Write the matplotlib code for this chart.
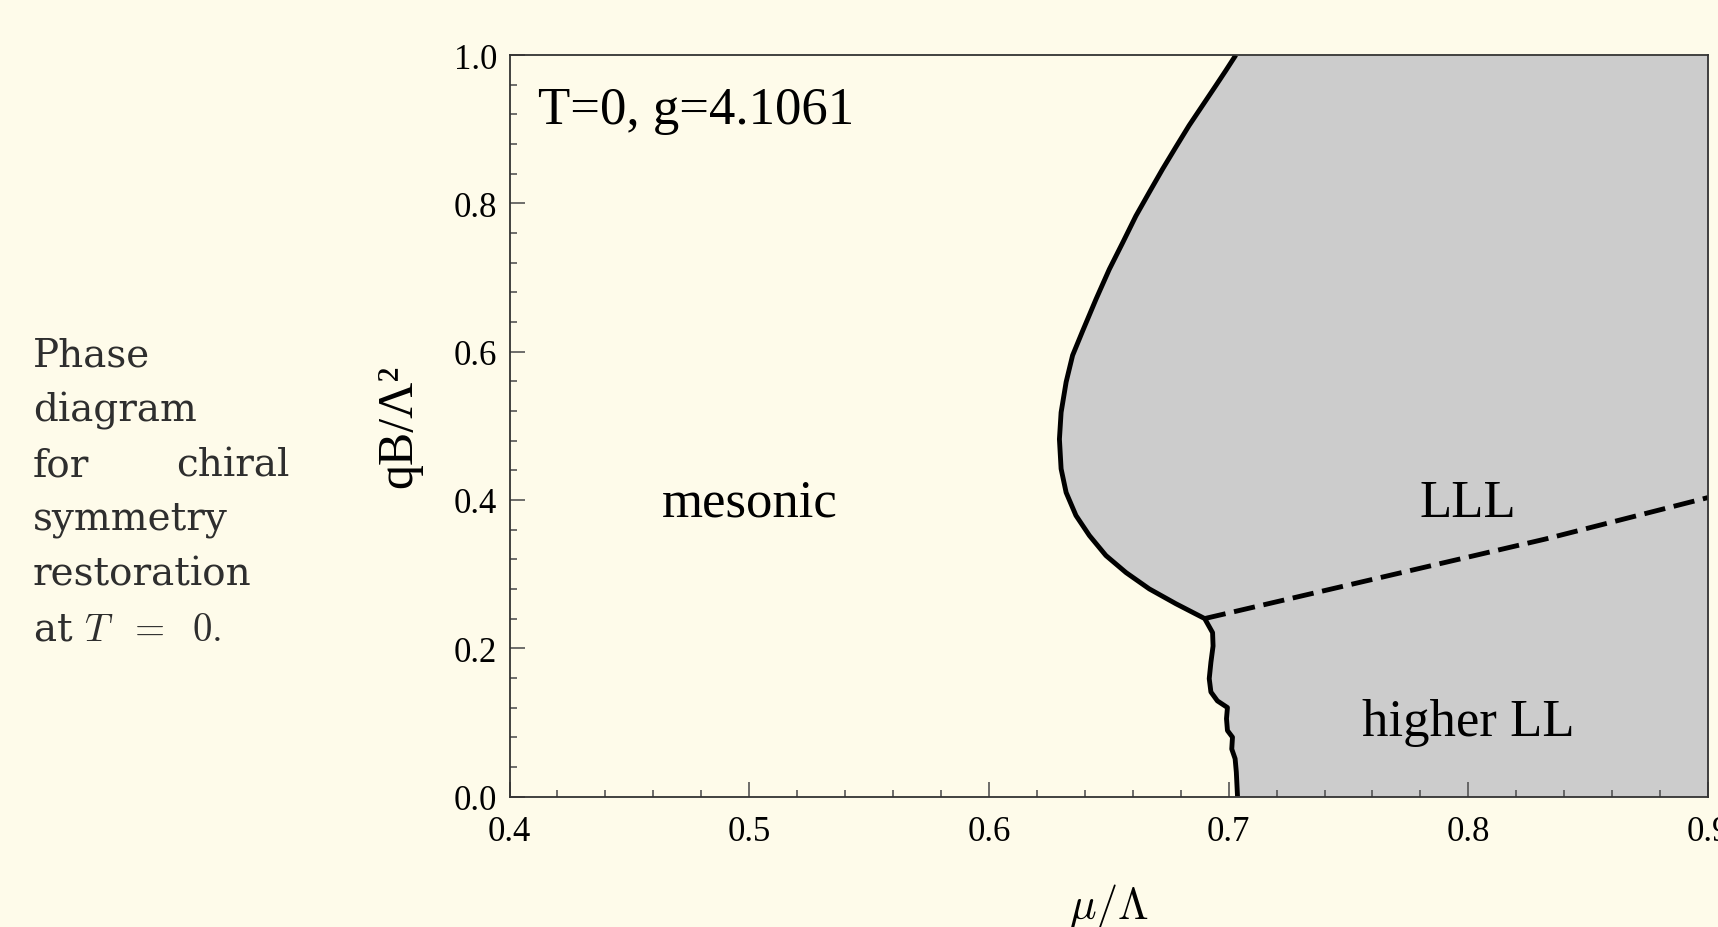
import numpy as np
import matplotlib
matplotlib.use("Agg")
import matplotlib.pyplot as plt
from matplotlib.ticker import MultipleLocator

plt.rcParams["mathtext.fontset"] = "cm"

# phase boundary (solid), top to bottom
boundary_mu = [0.7030, 0.6988, 0.6947, 0.6891, 0.6835, 0.6780, 0.6724, 0.6669,
               0.6613, 0.6558, 0.6502, 0.6447, 0.6391, 0.6349, 0.6322, 0.6301,
               0.6294, 0.6301, 0.6322, 0.6363, 0.6419, 0.6488, 0.6572, 0.6669,
               0.6780, 0.6900, 0.6933, 0.6935, 0.6926, 0.6919, 0.6926, 0.6953,
               0.6995, 0.6991, 0.6995, 0.7016, 0.7013, 0.7027, 0.7032, 0.7037]
boundary_qb = [1.000, 0.979, 0.959, 0.932, 0.905, 0.876, 0.846, 0.815,
               0.783, 0.747, 0.711, 0.671, 0.628, 0.595, 0.559, 0.518,
               0.482, 0.442, 0.410, 0.379, 0.352, 0.325, 0.302, 0.280,
               0.260, 0.240, 0.221, 0.203, 0.181, 0.159, 0.141, 0.129,
               0.120, 0.105, 0.089, 0.080, 0.064, 0.051, 0.033, 0.000]

# LLL / higher LL separation (dashed)
lll_mu = [0.6900, 0.8322, 0.9000]
lll_qb = [0.2400, 0.3473, 0.4032]

region_labels = ["mesonic", "LLL", "higher LL"]
region_mu = [0.5, 0.8, 0.8]
region_qb = [0.396, 0.396, 0.1]

caption = ["Phase", "diagram", None, "symmetry", "restoration",
           r"at $T\ \;=\ \;0.$"]

bg = "#fefbea"
fig = plt.figure(figsize=(17.18, 9.28), dpi=100, facecolor=bg)
ax = fig.add_axes([0.2966, 0.1406, 0.6976, 0.7990], facecolor=bg)

serif = "Liberation Serif"

ax.fill_betweenx(boundary_qb, boundary_mu, 0.9, color="#cccccc", lw=0, zorder=1)
ax.plot(boundary_mu, boundary_qb, color="black", lw=3.5,
        solid_joinstyle="round", solid_capstyle="butt", zorder=3)
ax.plot(lll_mu, lll_qb, color="black", lw=3.5, dashes=(4.4, 1.8), zorder=3)

for lab, x, y in zip(region_labels, region_mu, region_qb):
    ax.text(x, y, lab, ha="center", va="center", fontsize=38, family=serif)
ax.text(0.024, 0.926, "T=0, g=4.1061", transform=ax.transAxes, ha="left",
        va="center", fontsize=38, family=serif)

ax.set_xlim(0.4, 0.9)
ax.set_ylim(0.0, 1.0)
ax.xaxis.set_major_locator(MultipleLocator(0.1))
ax.xaxis.set_minor_locator(MultipleLocator(0.02))
ax.yaxis.set_major_locator(MultipleLocator(0.2))
ax.yaxis.set_minor_locator(MultipleLocator(0.04))
ax.xaxis.set_major_formatter(plt.FuncFormatter(lambda v, p: f"{v:.1f}"))
ax.yaxis.set_major_formatter(plt.FuncFormatter(lambda v, p: f"{v:.1f}"))
ax.tick_params(which="both", direction="in", color="#555555", width=1.2)
ax.tick_params(which="major", length=11, labelsize=25, pad=9)
ax.tick_params(axis="x", which="major", pad=13)
ax.tick_params(which="minor", length=5)
for lbl in ax.get_xticklabels() + ax.get_yticklabels():
    lbl.set_family(serif)
for s in ax.spines.values():
    s.set_linewidth(1.3)
    s.set_color("#333333")
    s.set_zorder(4)

ax.set_xlabel(r"$\mu/\Lambda$", fontsize=32, va="center")
ax.xaxis.set_label_coords(0.5, -0.148)
ax.set_ylabel("qB/Λ²", fontsize=36, family=serif, va="center", ha="center")
ax.yaxis.set_label_coords(-0.0922, 0.501)

cap_y = [356, 411, 466, 520, 575, 630]
cap_kw = dict(va="center", fontsize=28, family="DejaVu Serif", color="#2e2e2e")
for line, yy in zip(caption, cap_y):
    yf = 1 - yy / 928
    if line is None:
        fig.text(33 / 1718, yf, "for", ha="left", **cap_kw)
        fig.text(290 / 1718, yf, "chiral", ha="right", **cap_kw)
    else:
        fig.text(33 / 1718, yf, line, ha="left", **cap_kw)

fig.savefig("out.png", dpi=100, facecolor=bg)
